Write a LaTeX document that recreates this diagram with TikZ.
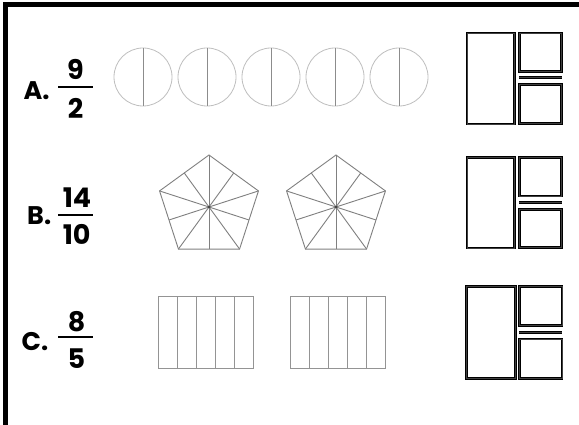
\documentclass[tikz,border=0pt]{standalone}
\usepackage{fontspec}
\setmainfont{Poppins}
\begin{document}
\begin{tikzpicture}[x=1pt,y=-1pt,
  lab/.style={font=\fontsize{25.5}{30}\selectfont\bfseries, inner sep=0pt, anchor=base west},
  num/.style={font=\fontsize{27}{32}\selectfont\bfseries, inner sep=0pt, anchor=base},
  fbar/.style={line width=2.2pt},
  frame/.style={line width=5pt, line join=miter},
  circ/.style={draw=black!25, line width=0.8pt, circle, minimum size=58pt, inner sep=0pt},
  half/.style={draw=black!45, line width=0.9pt},
  pent/.style={draw=black!50, line width=0.9pt, line join=miter},
  gridl/.style={draw=black!42, line width=0.9pt},
  heavy/.style={draw=black, line width=1pt, double=black!75, double distance=0.6pt},
]
\useasboundingbox (0,0) rectangle (579,425);
\fill[white] (0,0) rectangle (579,425);
\draw[frame] (579,5) -- (5,5) -- (5,425);

% ---- Row A ----
\node[lab] (labA) at (23.5,100) {A.};
\node[num] (numA) at (75.5,80) {9};
\node[num] (denA) at (75.5,118.3) {2};
\draw[fbar] (58,87.3) -- (93.3,87.3);
\foreach \i/\x in {1/143,2/207,3/271,4/335,5/399}{
  \node[circ] (cA\i) at (\x,77) {};
  \draw[half] (cA\i.north) -- (cA\i.south);
}
\draw[heavy] (467,33) rectangle (514.4,124);
\draw[heavy] (519.4,33) rectangle (561.7,71.3);
\draw[heavy] (519,77.7) -- (562,77.7);
\draw[heavy] (519.4,84.7) rectangle (561.7,123.7);

% ---- Row B ----
\node[lab] (labB) at (27,225) {B.};
\node[num] (numB) at (77,207.3) {14};
\node[num] (denB) at (76.7,244.3) {10};
\draw[fbar] (58.3,215) -- (93.3,215);
\foreach \cx in {209,336}{
  \begin{scope}[shift={(\cx,207)}]
    \draw[pent] (-90:52) -- (-18:52) -- (54:52) -- (126:52) -- (198:52) -- cycle;
    \foreach \a in {-90,-18,54,126,198} \draw[pent] (0,0) -- (\a:52);
    \foreach \a in {-54,18,90,162,234} \draw[pent] (0,0) -- (\a:42.07);
    \fill[black!75] (0,0) circle (1.3);
  \end{scope}
}
\draw[heavy] (467,157.3) rectangle (514.4,248);
\draw[heavy] (519.4,157.3) rectangle (561.7,196);
\draw[heavy] (519,202.3) -- (562,202.3);
\draw[heavy] (519.4,209.7) rectangle (561.7,247.7);

% ---- Row C ----
\node[lab] (labC) at (21.5,350) {C.};
\node[num] (numC) at (76.7,331.7) {8};
\node[num] (denC) at (76.5,368.3) {5};
\draw[fbar] (58.3,337.3) -- (93.3,337.3);
\foreach \x in {158.8,290.5}{
  \draw[gridl] (\x,296.5) rectangle ++(94.8,71.7);
  \foreach \k in {1,2,3,4} \draw[gridl] ({\x+\k*18.96},296.5) -- ++(0,71.7);
}
\draw[heavy] (466.4,286.3) rectangle (515.4,378.7);
\draw[heavy] (519.4,286.3) rectangle (561.9,325.3);
\draw[heavy] (519,332.3) -- (562,332.3);
\draw[heavy] (519.4,339) rectangle (561.9,378.7);
\end{tikzpicture}
\end{document}
